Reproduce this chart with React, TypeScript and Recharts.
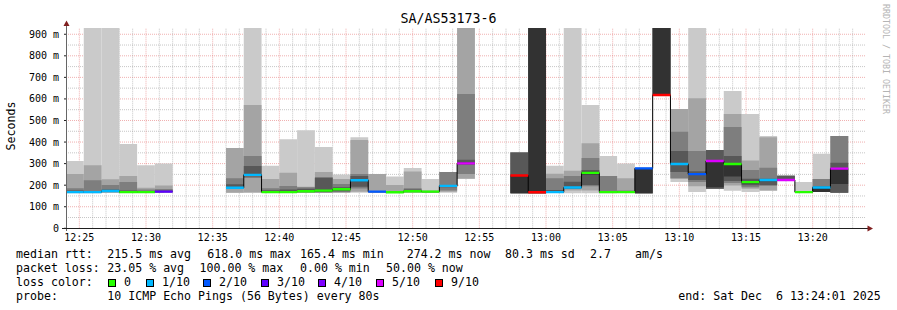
import { ComposedChart, Bar, Line, XAxis, YAxis, ReferenceLine, Cell } from "recharts"

// 80 s slots, 12:24:00 .. 13:22:40
const slots = [
    "12:24:00", "12:25:20", "12:26:40", "12:28:00", "12:29:20", "12:30:40", "12:32:00", "12:33:20", "12:34:40",
    "12:36:00", "12:37:20", "12:38:40", "12:40:00", "12:41:20", "12:42:40", "12:44:00", "12:45:20", "12:46:40",
    "12:48:00", "12:49:20", "12:50:40", "12:52:00", "12:53:20", "12:54:40", "12:56:00", "12:57:20", "12:58:40",
    "13:00:00", "13:01:20", "13:02:40", "13:04:00", "13:05:20", "13:06:40", "13:08:00", "13:09:20", "13:10:40",
    "13:12:00", "13:13:20", "13:14:40", "13:16:00", "13:17:20", "13:18:40", "13:20:00", "13:21:20", "13:22:40",
]

// lost pings run up to the top of the graph
const LOST = 929

// 10 sorted ping times (ms) per slot
const smoke: (number[] | null)[] = [
    [163, 164, 166, 167, 168, 169, 175, 186, 252, 312],
    [163, 164, 166, 167, 168, 170, 172, 223, 293, LOST],
    [165, 166, 167, 168, 170, 173, 180, 201, 227, LOST],
    [164, 165, 166, 167, 168, 170, 175, 215, 243, 391],
    [164, 165, 166, 167, 168, 170, 172, 180, 188, 293],
    [165, 166, 167, 168, 170, 171, 175, 182, 199, 300],
    null,
    null,
    null,
    [165, 165, 185, 186, 187, 190, 204, 232, 372, 372],
    [165, 166, 233, 240, 245, 250, 289, 335, 572, LOST],
    [164, 165, 166, 167, 168, 170, 177, 186, 229, 290],
    [164, 165, 166, 167, 168, 170, 180, 196, 258, 413],
    [164, 165, 166, 168, 170, 174, 184, 190, 193, 455],
    [164, 165, 166, 168, 172, 176, 235, 237, 261, 377],
    [164, 165, 168, 172, 178, 183, 190, 205, 229, 250],
    [165, 170, 185, 193, 218, 226, 243, 252, 410, 422],
    [165, 165, 168, 169, 170, 171, 172, 173, 252, 252],
    [164, 165, 166, 167, 168, 169, 170, 172, 201, 240],
    [165, 166, 167, 170, 172, 174, 180, 186, 263, 280],
    [165, 166, 167, 168, 169, 171, 172, 173, 175, 229],
    [165, 170, 175, 190, 195, 198, 200, 261, 261, 261],
    [230, 230, 252, 295, 298, 305, 318, 623, LOST, LOST],
    null,
    null,
    [162, 162, 162, 162, 162, 245, 351, 351, 351, 351],
    [162, 162, 162, 162, 162, LOST, LOST, LOST, LOST, LOST],
    [164, 165, 166, 167, 168, 170, 178, 232, 253, 290],
    [162, 175, 184, 185, 188, 192, 216, 243, 267, LOST],
    [162, 175, 195, 201, 250, 262, 270, 326, 394, 572],
    [162, 164, 164, 166, 167, 169, 172, 243, 243, 335],
    [164, 165, 166, 167, 168, 170, 172, 175, 232, 301],
    [162, 162, 162, 162, 162, 278, 278, 278, 278, 278],
    [618, 618, 618, 618, 618, LOST, LOST, LOST, LOST, LOST],
    [215, 230, 232, 261, 295, 300, 358, 448, 553, 553],
    [168, 195, 215, 224, 248, 254, 265, 358, 603, LOST],
    [184, 184, 184, 184, 190, 312, 363, 363, 363, 363],
    [174, 198, 210, 219, 240, 300, 335, 470, 530, 637],
    [168, 184, 190, 200, 208, 216, 230, 270, 314, 530],
    [174, 175, 198, 200, 218, 226, 230, 281, 422, 428],
    [222, 222, 222, 222, 222, 226, 244, 244, 244, 244],
    [165, 166, 166, 167, 167, 168, 169, 170, 172, 215],
    [168, 168, 168, 168, 168, 190, 195, 229, 229, 346],
    [165, 165, 165, 165, 205, 277, 304, 428, 428, 428],
    null,
]

const median: (number | null)[] = [
    168, 168, 173, 168, 168, 170, null, null, null,
    188, 248, 168, 168, 172, 175, 181, 223, 170,
    167, 172, 170, 197, 301, null, null, 245, 167,
    168, 189, 257, 168, 168, 278, 618, 298, 251,
    312, 298, 214, 224, 224, 168, 189, 277, null,
]

// lost pings out of 10
const loss: (number | null)[] = [
    1, 1, 1, 0, 0, 3, null, null, null,
    1, 1, 0, 0, 0, 0, 0, 1, 2,
    0, 0, 0, 1, 5, null, null, 9, 9,
    1, 1, 0, 0, 0, 2, 9, 1, 2,
    5, 0, 0, 1, 5, 0, 1, 5, null,
]

const timeTicks = ["12:25", "12:30", "12:35", "12:40", "12:45", "12:50", "12:55", "13:00", "13:05", "13:10", "13:15", "13:20"]
const rttTicks = [0, 100, 200, 300, 400, 500, 600, 700, 800, 900]

const lossLegend = [
    { label: "0", color: "#26ff00", x: 108 },
    { label: "1/10", color: "#00b8ff", x: 146 },
    { label: "2/10", color: "#0059ff", x: 203 },
    { label: "3/10", color: "#5e00ff", x: 261 },
    { label: "4/10", color: "#7e00ff", x: 318 },
    { label: "5/10", color: "#dd00ff", x: 376 },
    { label: "9/10", color: "#ff0000", x: 435 },
]

const lossColors: Record<number, string> = {
    0: "#26ff00", 1: "#00b8ff", 2: "#0059ff", 3: "#5e00ff", 4: "#7e00ff", 5: "#dd00ff", 9: "#ff0000",
}

const shades = ["#cacaca", "#a4a4a4", "#7e7e7e", "#585858", "#323232"]
const mono = "'DejaVu Sans Mono', monospace"
const BAR = 17.77

const startMin = 12 * 60 + 24
const toSec = (hhmm: string) => {
    const [h, m, s] = hhmm.split(":").map(Number)
    return (h * 60 + m - startMin) * 60 + (s || 0)
}

interface Row {
    slot: string
    t: number
    smoke: number[] | null
    median: number | null
    loss: number | null
}

const rows: Row[] = slots.map((slot, i) => ({ slot, t: toSec(slot), smoke: smoke[i], median: median[i], loss: loss[i] }))

const bandKeys = shades.map((_, k) => (r: Row) => (r.smoke ? [r.smoke[k], r.smoke[9 - k]] : null))
const medianKey = (r: Row) => (r.median == null ? null : [r.median - 5.5, r.median + 5.5])

const tickSecs = timeTicks.map(toSec)
const minuteLines = Array.from({ length: 59 }, (_, i) => (i + 1) * 60)
const rttLines = Array.from({ length: 18 }, (_, i) => (i + 1) * 50)

const majorGrid = "rgba(222,79,79,0.45)"
const minorGrid = "rgba(143,143,143,0.5)"

const textRow = (top: number): React.CSSProperties => ({
    position: "absolute", top, fontFamily: mono, fontSize: 11.6, lineHeight: "14px", whiteSpace: "pre", color: "#000",
})

const StatsLine = ({ top, items }: { top: number; items: [string, number][] }) => (
    <>
        {items.map(([t, x]) => (
            <div key={t + x} style={{ ...textRow(top), left: x }}>{t}</div>
        ))}
    </>
)

const App = () => {
    return (
        <div style={{ position: "absolute", left: 0, top: 0, width: 897, height: 310, background: "#fff", overflow: "hidden" }}>
            <div style={{ position: "absolute", left: 0, top: 11, width: 897, textAlign: "center", fontFamily: mono, fontSize: 13.3, lineHeight: "16px" }}>
                SA/AS53173-6
            </div>
            <div style={{ position: "absolute", left: -39, top: 119, width: 100, textAlign: "center", fontFamily: mono, fontSize: 11.6, lineHeight: "14px", transform: "rotate(-90deg)" }}>
                Seconds
            </div>
            <div style={{ position: "absolute", left: 881, top: 4, writingMode: "vertical-rl", fontFamily: mono, fontSize: 8.3, lineHeight: "10px", color: "#b4b4b4", whiteSpace: "pre" }}>
                RRDTOOL / TOBI OETIKER
            </div>

            <ComposedChart
                width={897}
                height={310}
                data={rows}
                margin={{ top: 28, right: 31, bottom: 51.7, left: 6 }}
                barCategoryGap={0}
                barGap={-BAR}
                barSize={BAR}
                style={{ position: "absolute", left: 0, top: 0 }}
            >
                <XAxis
                    dataKey="t"
                    type="number"
                    scale="linear"
                    domain={[0, 3600]}
                    allowDataOverflow
                    ticks={tickSecs}
                    tickFormatter={(v: number) => timeTicks[tickSecs.indexOf(v)] ?? ""}
                    interval={0}
                    height={30}
                    axisLine={false}
                    tickLine={false}
                    tickSize={2}
                    tickMargin={4}
                    tick={{ fontFamily: mono, fontSize: 10, fill: "#000" }}
                />
                <XAxis xAxisId="c" dataKey="slot" hide height={0} />
                <YAxis
                    width={60}
                    domain={[0, LOST]}
                    allowDataOverflow
                    ticks={rttTicks}
                    interval={0}
                    tickFormatter={(v: number) => (v === 0 ? "0" : `${v} m`)}
                    axisLine={false}
                    tickLine={{ stroke: "#1f1f1f" }}
                    tickSize={2}
                    tickMargin={5}
                    tick={{ fontFamily: mono, fontSize: 10, fill: "#000" }}
                />

                {rttLines.map(v => (
                    <ReferenceLine key={"y" + v} y={v} stroke={v % 100 === 0 ? majorGrid : minorGrid} strokeDasharray="1 1" zIndex={50} />
                ))}
                {minuteLines.map(s => (
                    <ReferenceLine
                        key={"x" + s}
                        x={s}
                        stroke={tickSecs.includes(s) ? majorGrid : minorGrid}
                        strokeDasharray="1 1"
                        zIndex={50}
                    />
                ))}

                {bandKeys.map((key, k) => (
                    <Bar key={k} xAxisId="c" dataKey={key} fill={shades[k]} barSize={BAR} isAnimationActive={false} zIndex={100} />
                ))}

                <Line xAxisId="c" dataKey="median" type="step" stroke="#000" strokeWidth={1} dot={false} activeDot={false} isAnimationActive={false} zIndex={200} />

                <Bar xAxisId="c" dataKey={medianKey} barSize={BAR} isAnimationActive={false} zIndex={250}>
                    {rows.map((r, i) => (
                        <Cell key={i} fill={r.loss == null ? "none" : lossColors[r.loss]} />
                    ))}
                </Bar>
            </ComposedChart>

            <svg width={897} height={310} style={{ position: "absolute", left: 0, top: 0, pointerEvents: "none" }}>
                <line x1={66.5} y1={26} x2={66.5} y2={231} stroke="#666" strokeWidth={1} />
                <line x1={62} y1={228.5} x2={868} y2={228.5} stroke="#1f1f1f" strokeWidth={1} />
                <polygon points="63.5,26 66.5,20.5 69.5,26" fill="#801f1f" />
                <polygon points="867.5,225.5 873,228.5 867.5,231.5" fill="#801f1f" />
            </svg>

            <StatsLine
                top={247}
                items={[
                    ["median rtt:", 16], ["215.5 ms avg", 107.3], ["618.0 ms max", 207.3], ["165.4 ms min", 300],
                    ["274.2 ms now", 406.7], ["80.3 ms sd", 505], ["2.7", 590], ["am/s", 635],
                ]}
            />
            <StatsLine
                top={261}
                items={[
                    ["packet loss:", 16], ["23.05 % avg", 107.3], ["100.00 % max", 199.5], ["0.00 % min", 300], ["50.00 % now", 386],
                ]}
            />
            <div style={{ ...textRow(275), left: 16 }}>loss color:</div>
            {lossLegend.map(l => (
                <div key={l.label}>
                    <div style={{ position: "absolute", left: l.x, top: 278.5, width: 6, height: 6, background: l.color, border: "1px solid #000" }} />
                    <div style={{ ...textRow(275), left: l.x + 16 }}>{l.label}</div>
                </div>
            ))}
            <StatsLine
                top={289}
                items={[["probe:", 16], ["10 ICMP Echo Pings (56 Bytes) every 80s", 107.3], ["end: Sat Dec  6 13:24:01 2025", 678.3]]}
            />
        </div>
    )
}

export default App
